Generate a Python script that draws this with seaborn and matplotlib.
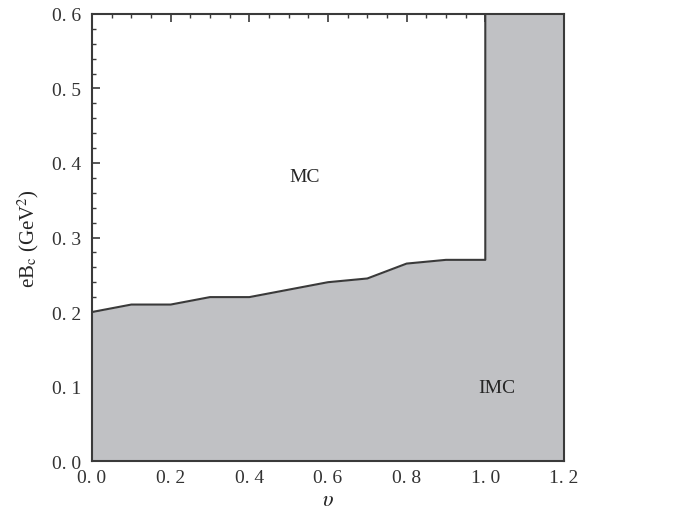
import seaborn as sns
import matplotlib.pyplot as plt
from matplotlib.ticker import MultipleLocator, FixedLocator, FixedFormatter

sns.set_theme(style="ticks")
plt.rcParams['font.family'] = ['Liberation Serif', 'DejaVu Serif']
plt.rcParams['mathtext.fontset'] = 'stix'

# phase boundary between MC and IMC
upsilon = [0.0, 0.1, 0.2, 0.3, 0.4, 0.5, 0.6, 0.7, 0.8, 0.9, 1.0]
eB_c = [0.200, 0.210, 0.210, 0.220, 0.220, 0.230, 0.240, 0.245, 0.265, 0.270, 0.270]
x_ticks = [0.0, 0.2, 0.4, 0.6, 0.8, 1.0, 1.2]
x_labels = ['0. 0', '0. 2', '0. 4', '0. 6', '0. 8', '1. 0', '1. 2']
y_ticks = [0.0, 0.1, 0.2, 0.3, 0.4, 0.5, 0.6]
y_labels = ['0. 0', '0. 1', '0. 2', '0. 3', '0. 4', '0. 5', '0. 6']

fig = plt.figure(figsize=(6.94, 5.1), dpi=100)
ax = fig.add_axes([0.1326, 0.0941, 0.68, 0.8765])

gray = '#c0c1c4'
edge = '#3a3a3a'

# shaded IMC region under the boundary, plus the strip right of 1.0
ax.fill_between(upsilon, 0, eB_c, color=gray, lw=0)
ax.fill_between([upsilon[-1], 1.2], 0, 0.6, color=gray, lw=0)
sns.lineplot(x=upsilon + [upsilon[-1]], y=eB_c + [0.6], sort=False,
             estimator=None, color=edge, lw=1.5, ax=ax)

ax.text(0.54, 0.382, 'MC', ha='center', va='center', fontsize=14)
ax.text(1.03, 0.099, 'IMC', ha='center', va='center', fontsize=14)

ax.set_xlim(0, 1.2)
ax.set_ylim(0, 0.6)
ax.xaxis.set_major_locator(FixedLocator(x_ticks))
ax.xaxis.set_major_formatter(FixedFormatter(x_labels))
ax.yaxis.set_major_locator(FixedLocator(y_ticks))
ax.yaxis.set_major_formatter(FixedFormatter(y_labels))
ax.xaxis.set_minor_locator(MultipleLocator(0.05))
ax.yaxis.set_minor_locator(MultipleLocator(0.02))
ax.tick_params(which='both', direction='in', top=True, right=True,
               color=edge, labelsize=14, labelcolor='#333333')
ax.tick_params(axis='x', which='major', pad=6)
ax.tick_params(axis='y', which='major', pad=8)
ax.tick_params(which='major', length=6, width=1.2)
ax.tick_params(which='minor', length=3, width=1.0)
for s in ax.spines.values():
    s.set_color(edge)
    s.set_linewidth(1.5)

ax.set_xlabel('$\\upsilon$', fontsize=16, labelpad=3)
ax.set_ylabel('eB$_\\mathrm{c}$ (GeV$^2$)', fontsize=15, labelpad=8)

fig.savefig('out.png', dpi=100)
